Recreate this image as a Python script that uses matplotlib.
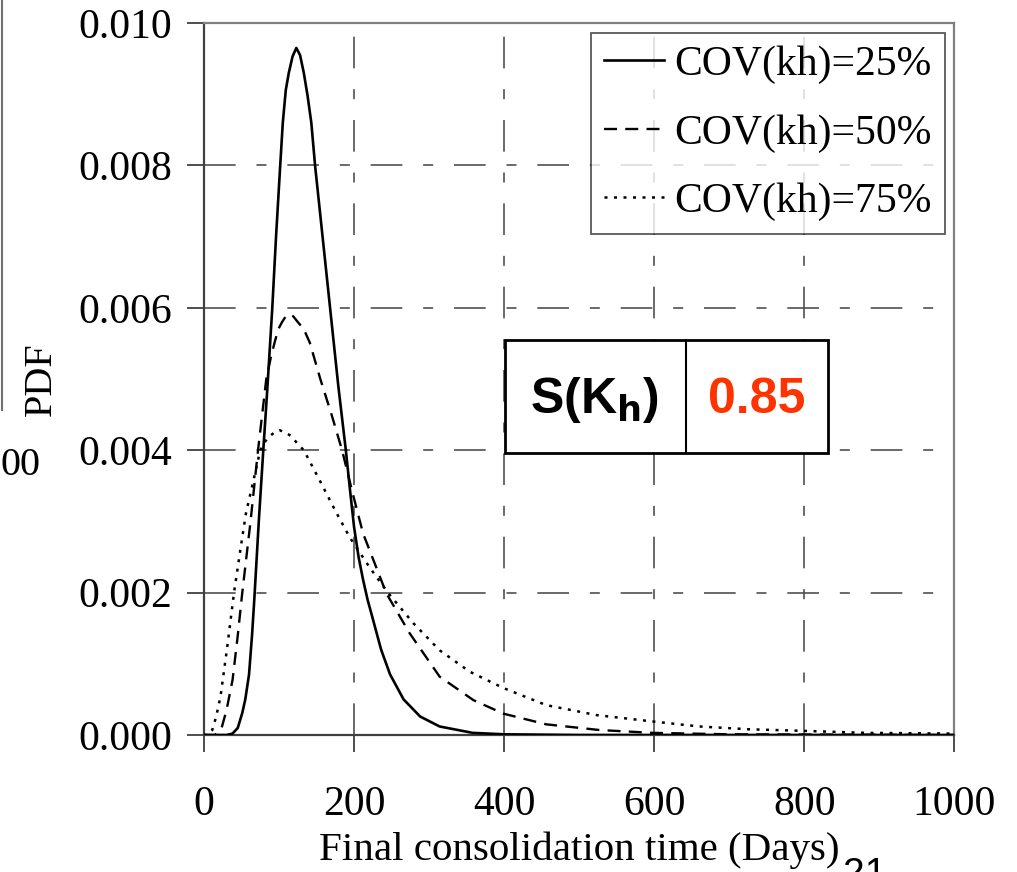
import matplotlib
matplotlib.use("Agg")
import matplotlib.pyplot as plt
from matplotlib.patches import Rectangle
from matplotlib.lines import Line2D

# values
days_25 = [0, 30, 38, 45, 51, 55, 60, 64, 67, 73, 79, 84, 91, 96, 101, 105, 109, 113, 118,
           123, 128, 133, 138, 143, 148, 158, 168, 179, 189, 195, 200, 206, 212, 218, 225,
           236, 248, 266, 288, 314, 358, 400, 500, 1000]
pdf_25 = [0, 0, 0.00002, 0.00010, 0.00031, 0.00050, 0.00085, 0.0014, 0.0019, 0.0030,
          0.0040, 0.0048, 0.0060, 0.0070, 0.0079, 0.0086, 0.00906, 0.0093, 0.00953,
          0.00965, 0.00955, 0.0093, 0.00898, 0.0086, 0.0080, 0.0070, 0.0060, 0.0049,
          0.0040, 0.0034, 0.00292, 0.0025, 0.00218, 0.0019, 0.00163, 0.0012, 0.00085,
          0.00050, 0.00026, 0.00012, 0.00003, 0.00001, 0, 0]

days_50 = [0, 15, 24, 30, 38, 45, 51, 62, 72, 83, 89, 94, 99, 104, 109, 114, 119, 125,
           133, 141, 155, 170, 184, 198, 212, 243, 274, 314, 359, 399, 456, 527, 598, 700,
           1000]
pdf_50 = [0, 0, 0.00012, 0.00035, 0.00077, 0.0014, 0.0020, 0.0030, 0.0040, 0.0050,
          0.0053, 0.00551, 0.0057, 0.0058, 0.00588, 0.00591, 0.00588, 0.0058, 0.0057,
          0.00551, 0.0050, 0.0045, 0.0040, 0.0034, 0.00283, 0.00199, 0.00143, 0.00082,
          0.00049, 0.00030, 0.00015, 0.00007, 0.00003, 0.00001, 0]

days_75 = [0, 5, 11, 16, 22, 31, 40, 49, 56, 66, 75, 82, 88, 95, 101, 108, 116, 124, 133,
           153, 175, 194, 209, 221, 245, 279, 314, 354, 399, 456, 523, 598, 660, 727, 794,
           882, 1000]
pdf_75 = [0, 0, 0.00007, 0.00025, 0.00054, 0.00124, 0.0020, 0.00264, 0.00312, 0.00358,
          0.0040, 0.00413, 0.0042, 0.00426, 0.00428, 0.00425, 0.0042, 0.0041, 0.0040,
          0.0036, 0.00315, 0.00278, 0.00254, 0.00235, 0.0020, 0.00157, 0.00119, 0.00089,
          0.00066, 0.00042, 0.00028, 0.00019, 0.00012, 0.00008, 0.00006, 0.00003, 0.00002]

labels = ["COV(kh)=25%", "COV(kh)=50%", "COV(kh)=75%"]
x_ticks = [0, 200, 400, 600, 800, 1000]
y_ticks = [0.000, 0.002, 0.004, 0.006, 0.008, 0.010]
sens_label = r"S(K$_\mathbf{h}$)"
sens_value = "0.85"

serif = "Liberation Serif"
sans = "Liberation Sans"

fig = plt.figure(figsize=(10.17, 8.72), dpi=100)
ax = fig.add_axes([0.2006, 0.1571, 0.7378, 0.8165])

ax.plot(days_25, pdf_25, color="black", lw=1.9, label=labels[0], zorder=3)
ax.plot(days_50, pdf_50, color="black", lw=1.7, ls=(0, (5.5, 3.5)), label=labels[1], zorder=3)
ax.plot(days_75, pdf_75, color="black", lw=1.8, ls=(0, (1.2, 2.6)), label=labels[2], zorder=3)

ax.set_xlim(0, 1000)
ax.set_ylim(0, 0.010)
ax.set_xticks(x_ticks)
ax.set_yticks(y_ticks)
ax.set_xticklabels([str(t) for t in x_ticks])
ax.set_yticklabels(["%.3f" % t for t in y_ticks])

ax.grid(True, color="#505050", lw=1.2, ls=(0, (19, 12.5, 6, 12.5)))
ax.set_axisbelow(True)

for s in ["top", "right"]:
    ax.spines[s].set_color("#808080")
    ax.spines[s].set_linewidth(1.6)
for s in ["left", "bottom"]:
    ax.spines[s].set_color("#404040")
    ax.spines[s].set_linewidth(1.6)

ax.tick_params(axis="both", direction="out", length=12, width=1.3, color="#404040",
               labelsize=30)
ax.tick_params(axis="y", pad=11)
ax.tick_params(axis="x", pad=24)
for lab in ax.get_xticklabels() + ax.get_yticklabels():
    lab.set_fontfamily(serif)

ax.set_xlabel("Final consolidation time (Days)", fontsize=29.5, fontfamily=serif, labelpad=6)
ax.set_ylabel("PDF", fontsize=29, fontfamily=serif, labelpad=13)

leg = ax.legend(loc="upper right", bbox_to_anchor=(0.987, 0.986),
                prop={"family": serif, "size": 30}, frameon=True, fancybox=False,
                edgecolor="#303030", handlelength=1.45, handletextpad=0.25, borderpad=0.3,
                labelspacing=0.72, borderaxespad=0.0)
leg.get_frame().set_linewidth(1.3)

# sensitivity box
ax.add_patch(Rectangle((401, 0.00396), 430, 0.00159, facecolor="white", edgecolor="black",
                       lw=2, zorder=4))
ax.plot([642, 642], [0.00396, 0.00555], color="black", lw=1.5, zorder=5)
ax.text(521, 0.00470, sens_label, fontsize=36, fontweight="bold", fontfamily=sans,
        ha="center", va="center", zorder=6)
ax.text(736, 0.00470, sens_value, fontsize=36, fontweight="bold", fontfamily=sans,
        color="#FF3300", ha="center", va="center", zorder=6)

# cropped bits at the picture edges
fig.add_artist(Line2D([0.0015, 0.0015], [1.0, 1 - 410 / 872], color="#707070", lw=1.5))
fig.text(1 / 1017, 1 - 465 / 872, "00", fontsize=29, fontfamily=serif, ha="left", va="center")
fig.text(843 / 1017, 1 - 857 / 872, "21", fontsize=28, fontfamily=sans, ha="left", va="top")

fig.savefig("out.png", dpi=100)
